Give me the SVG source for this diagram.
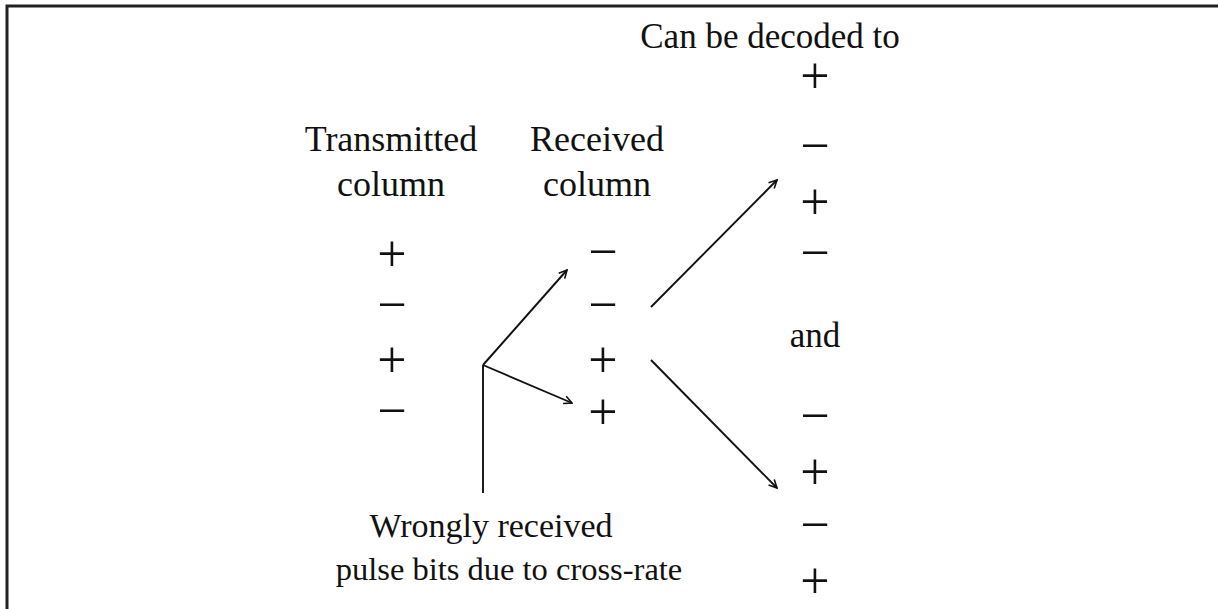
<svg xmlns="http://www.w3.org/2000/svg" width="1218" height="609" viewBox="0 0 1218 609">
<defs>
<style>
.t{font-family:"Liberation Serif","Times New Roman",serif;font-size:36px;fill:#111;text-anchor:middle}
.s{font-family:"Liberation Serif","Times New Roman",serif;font-size:52px;fill:#111;text-anchor:middle}
.ln{stroke:#111;stroke-width:1.9;fill:none}
</style>
<marker id="ah" viewBox="0 0 10 10" refX="9" refY="5" markerWidth="10" markerHeight="10" markerUnits="userSpaceOnUse" orient="auto">
<path d="M1,1 L9,5 L1,9" fill="none" stroke="#111" stroke-width="1.6"/>
</marker>
</defs>
<rect width="1218" height="609" fill="#fff"/>
<g id="frame"><path d="M7,609 V6 H1218" stroke="#222" stroke-width="3" fill="none"/></g>
<g id="decoded">
<text class="t" x="770" y="48" style="font-size:35px">Can be decoded to</text>
<text class="s" x="815" y="93">+</text>
<text class="s" x="815" y="163">−</text>
<text class="s" x="815" y="219">+</text>
<text class="s" x="815" y="270">−</text>
<text class="t" x="815" y="347" style="font-size:35px">and</text>
<text class="s" x="815" y="433">−</text>
<text class="s" x="815" y="489">+</text>
<text class="s" x="815" y="542">−</text>
<text class="s" x="815" y="598">+</text>
</g>
<g id="transmitted">
<text class="t" x="391" y="151">Transmitted</text>
<text class="t" x="391" y="196">column</text>
<text class="s" x="392" y="271">+</text>
<text class="s" x="392" y="322">−</text>
<text class="s" x="392" y="377">+</text>
<text class="s" x="392" y="428">−</text>
</g>
<g id="received">
<text class="t" x="597" y="151">Received</text>
<text class="t" x="597" y="196">column</text>
<text class="s" x="603" y="269">−</text>
<text class="s" x="603" y="322">−</text>
<text class="s" x="603" y="377">+</text>
<text class="s" x="603" y="429">+</text>
</g>
<g id="note">
<text class="t" x="491" y="537" style="font-size:34px">Wrongly received</text>
<text class="t" x="509" y="580" style="font-size:32.5px">pulse bits due to cross-rate</text>
</g>
<g id="connectors">
<path class="ln" d="M483,493 V365"/>
<path class="ln" d="M483,365 L567,270" marker-end="url(#ah)"/>
<path class="ln" d="M483,365 L572,403" marker-end="url(#ah)"/>
<path class="ln" d="M651,307 L777,180" marker-end="url(#ah)"/>
<path class="ln" d="M651,360 L777,488" marker-end="url(#ah)"/>
</g>
</svg>
